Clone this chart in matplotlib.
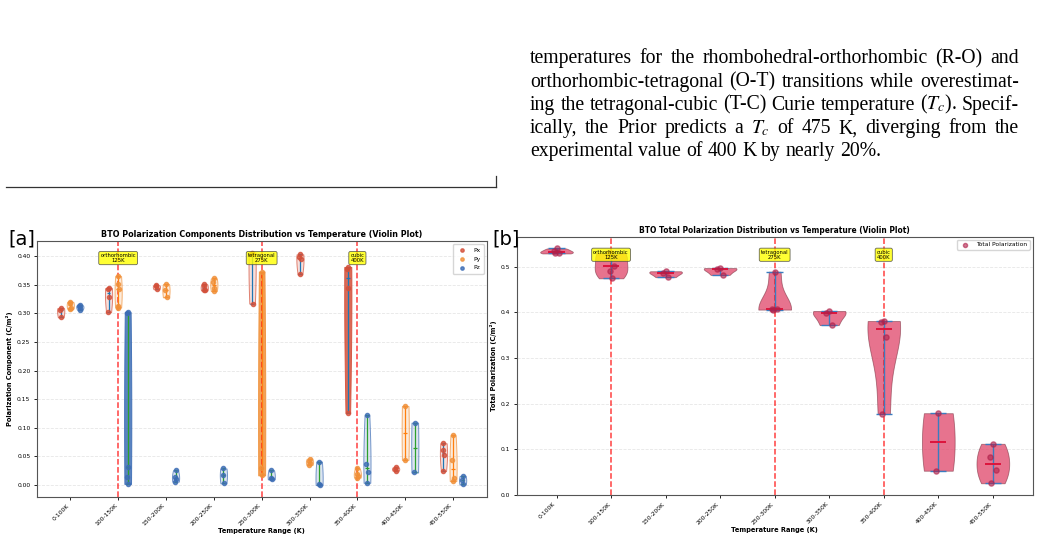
#!/usr/bin/env python3

import numpy as np
import matplotlib
matplotlib.use('Agg')
from matplotlib import pyplot as plt
from matplotlib.lines import Line2D
from matplotlib.colors import to_rgba

plt.rcParams['mathtext.fontset'] = 'stix'

ranges = ['0-100K', '100-150K', '150-200K', '200-250K', '250-300K',
          '300-350K', '350-400K', '400-450K', '450-550K']

px = [[0.309, 0.306, 0.293],
      [0.344, 0.342, 0.328, 0.302],
      [0.349, 0.347, 0.342],
      [0.351, 0.348, 0.341, 0.340],
      [0.406, 0.404, 0.317],
      [0.403, 0.398, 0.395, 0.368],
      [0.381, 0.378, 0.345, 0.126],
      [0.031, 0.028, 0.025],
      [0.073, 0.061, 0.052, 0.0245]]

py = [[0.320, 0.318, 0.310, 0.308],
      [0.365, 0.352, 0.342, 0.312, 0.310],
      [0.351, 0.340, 0.328],
      [0.361, 0.355, 0.345, 0.339],
      [0.373, 0.030, 0.017],
      [0.046, 0.042, 0.038, 0.035],
      [0.029, 0.019, 0.016, 0.013],
      [0.138, 0.044],
      [0.087, 0.044, 0.012, 0.007]]

pz = [[0.314, 0.312, 0.310, 0.306],
      [0.302, 0.301, 0.031, 0.014, 0.002],
      [0.026, 0.014, 0.010, 0.006],
      [0.029, 0.018, 0.003],
      [0.026, 0.012, 0.010],
      [0.041, 0.002, 0.000],
      [0.122, 0.036, 0.022, 0.004],
      [0.109, 0.022],
      [0.016, 0.008, 0.001]]

ptot = [[0.540, 0.535, 0.531, 0.529],
        [0.530, 0.529, 0.502, 0.490, 0.4745],
        [0.490, 0.487, 0.477],
        [0.497, 0.495, 0.482],
        [0.489, 0.408, 0.407, 0.406],
        [0.403, 0.399, 0.372],
        [0.381, 0.378, 0.347, 0.177],
        [0.179, 0.053],
        [0.112, 0.082, 0.055, 0.0255]]

trans_pos = [1, 4, 6]
trans_labels = ['orthorhombic\n125K', 'tetragonal\n275K', 'cubic\n400K']

para = ['temperatures for the rhombohedral-orthorhombic (R-O) and',
        'orthorhombic-tetragonal (O-T) transitions while overestimat-',
        'ing the tetragonal-cubic (T-C) Curie temperature ($T_c$). Specif-',
        'ically, the Prior predicts a $T_c$ of 475 K, diverging from the',
        'experimental value of 400 K by nearly 20%.']

W, H = 1039, 540
JIT = [0.0, -1.0, 1.0, -0.5, 0.5]


def fx(x):
    return x / W


def fy(y):
    return 1 - y / H


def style_axes(ax, title, ylabel, tfs):
    ax.set_xticks(np.arange(len(ranges)))
    ax.set_xticklabels(ranges, rotation=45, ha='right', fontsize=4.3)
    ax.tick_params(axis='y', labelsize=4.3)
    ax.tick_params(length=2.5, width=0.6, pad=2)
    ax.set_title(title, fontsize=tfs, fontweight='bold', pad=3)
    ax.set_xlabel('Temperature Range (K)', fontsize=4.8, fontweight='bold', labelpad=1)
    ax.set_ylabel(ylabel, fontsize=4.8, fontweight='bold', labelpad=3)
    ax.yaxis.grid(True, linestyle='--', alpha=0.3, linewidth=0.6)
    ax.set_axisbelow(True)
    for s in ax.spines.values():
        s.set_color('#555555')
        s.set_linewidth(0.8)


def add_transitions(ax):
    ytop = ax.get_ylim()[1]
    for t, lab in zip(trans_pos, trans_labels):
        ax.axvline(t, color='red', ls='--', lw=1.1, alpha=0.75, zorder=1)
        ax.text(t, ytop * 0.93, lab, ha='center', va='center', fontsize=3.8,
                linespacing=1.0, zorder=5,
                bbox=dict(boxstyle='round,pad=0.3', fc='yellow', ec='#444444',
                          lw=0.6, alpha=0.8))


def main():
    fig = plt.figure(figsize=(W / 100, H / 100), dpi=100)
    r = fig.canvas.get_renderer()

    # --- paragraph text (justified, last line natural) ---
    fam = 'Liberation Serif'
    t = fig.text(0, 0, para[-1], fontsize=10, family=fam)
    fs = 10 * 351.5 / t.get_window_extent(r).width
    t.remove()
    x0, x1 = 530, 1019
    for i, line in enumerate(para):
        yb = 63.3 + 23.3 * i
        words = line.split(' ')
        wids = []
        for w in words:
            tt = fig.text(0, 0, w, fontsize=fs, family=fam)
            wids.append(tt.get_window_extent(r).width)
            tt.remove()
        right = x1 if i < len(para) - 1 else 881.5
        gap = (right - x0 - sum(wids)) / (len(words) - 1)
        x = x0
        for w, wd in zip(words, wids):
            fig.text(fx(x), fy(yb), w, fontsize=fs, family=fam, va='baseline')
            x += wd + gap

    # --- rule ---
    fig.add_artist(Line2D([fx(6), fx(496)], [fy(187), fy(187)],
                          transform=fig.transFigure, color='#333333', lw=0.9))
    fig.add_artist(Line2D([fx(496), fx(496)], [fy(187), fy(176)],
                          transform=fig.transFigure, color='#333333', lw=0.9))

    # --- panel a ---
    ax1 = fig.add_axes([0.0353, 0.0802, 0.4331, 0.4735])
    x = np.arange(len(ranges))
    comps = [('Px', px, -0.2, '#d4503a', 'C0'),
             ('Py', py, 0.0, '#f0913a', 'C1'),
             ('Pz', pz, 0.2, '#3d6db5', 'C2')]
    for name, vals, off, col, lcol in comps:
        parts = ax1.violinplot(vals, positions=x + off, widths=0.15,
                               showmedians=True, bw_method=1.5)
        for pc, v in zip(parts['bodies'], vals):
            solid = max(v) - min(v) > 0.2
            pc.set_alpha(None)
            pc.set_facecolor(to_rgba(col, 0.85 if solid else 0.18))
            pc.set_edgecolor(to_rgba(col, 0.9 if solid else 0.7))
            pc.set_linewidth(0.7)
        for key in ('cbars', 'cmins', 'cmaxes', 'cmedians'):
            parts[key].set_color(lcol)
            parts[key].set_linewidth(0.9)
        for i, v in enumerate(vals):
            xs = [i + off + 0.012 * JIT[k % 5] for k in range(len(v))]
            ax1.scatter(xs, v, s=9, color=col, alpha=0.8, zorder=3,
                        label=name if i == 0 else None)
    style_axes(ax1, 'BTO Polarization Components Distribution vs Temperature (Violin Plot)',
               'Polarization Component (C/m²)', 5.75)
    add_transitions(ax1)
    ax1.legend(loc='upper right', fontsize=4.3, markerscale=0.8, borderpad=0.6,
               handletextpad=0.8, labelspacing=0.6)

    # --- panel b ---
    ax2 = fig.add_axes([0.4973, 0.0833, 0.4966, 0.4784])
    parts = ax2.violinplot(ptot, positions=x, widths=0.6, showmedians=True)
    for pc in parts['bodies']:
        pc.set_alpha(None)
        pc.set_facecolor(to_rgba('#e04468', 0.75))
        pc.set_edgecolor(to_rgba('#7a3040', 0.6))
        pc.set_linewidth(0.6)
    for key in ('cbars', 'cmins', 'cmaxes'):
        parts[key].set_color('#3a7cc0')
        parts[key].set_linewidth(1.0)
    parts['cmedians'].set_color('crimson')
    parts['cmedians'].set_linewidth(1.4)
    for i, v in enumerate(ptot):
        xs = [i + 0.05 * JIT[k % 5] for k in range(len(v))]
        ax2.scatter(xs, v, s=14, color='#b0204a', alpha=0.6, zorder=3,
                    label='Total Polarization' if i == 0 else None)
    style_axes(ax2, 'BTO Total Polarization Distribution vs Temperature (Violin Plot)',
               'Total Polarization (C/m²)', 5.45)
    add_transitions(ax2)
    ax2.legend(loc='upper right', fontsize=4.3, markerscale=0.8)

    # panel tags
    fig.text(fx(8), fy(244.5), '[a]', fontsize=14, va='baseline')
    fig.text(fx(492), fy(244.5), '[b]', fontsize=14, va='baseline')

    fig.savefig('out.png', dpi=100)


if __name__ == '__main__':
    main()
